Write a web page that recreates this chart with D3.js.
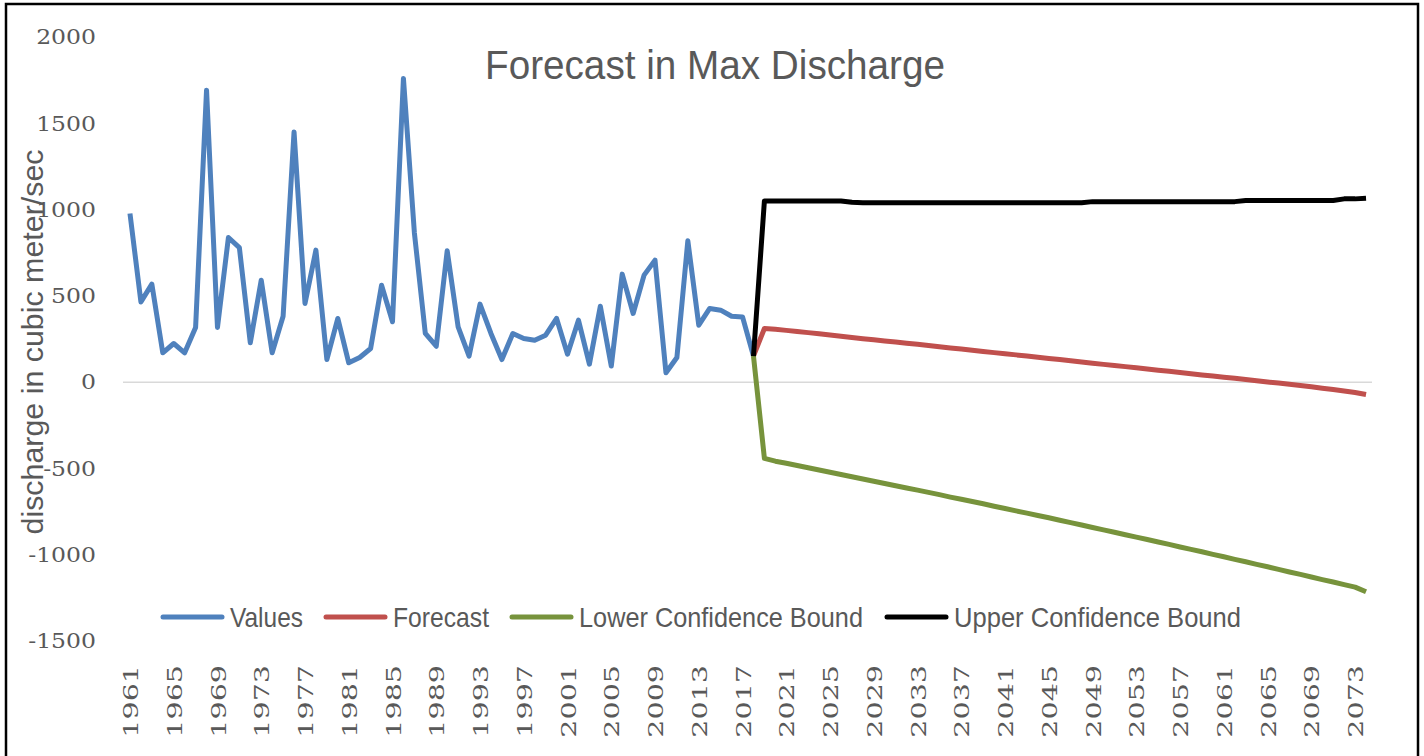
<!DOCTYPE html>
<html>
<head>
<meta charset="utf-8">
<script src="https://cdn.jsdelivr.net/npm/d3@7"></script>
<style>
  body { margin: 0; background: #fff; }
  svg { display: block; }
</style>
</head>
<body>
<div id="chart"></div>
<script>
// observed max discharge, 1961-2018
var valueYears = d3.range(1961, 2019);
var values = [977, 465, 568, 170, 224, 170, 317, 1692, 317, 838,
              780, 228, 591, 170, 382, 1450, 456, 765, 131, 369,
              112, 143, 195, 562, 350, 1760, 866, 282, 208, 761,
              320, 151, 452, 282, 131, 282, 253, 243, 272, 369,
              162, 359, 104, 440, 93, 626, 398, 620, 707, 54,
              143, 819, 330, 427, 417, 382, 378, 151];

// forecast years, 2018 (last observed) to 2074
var forecastYears = d3.range(2018, 2075);
var forecast = [151,
  311, 306, 300, 293, 287, 280, 273, 266, 259, 252,
  246, 239, 232, 225, 219, 212, 205, 198, 192, 185,
  178, 171, 164, 158, 151, 144, 137, 131, 124, 117,
  110, 103, 97, 90, 83, 76, 69, 63, 56, 49,
  42, 35, 29, 22, 15, 8, 1, -5, -12, -19,
  -27, -35, -43, -51, -60, -72];
var lowerBound = [151,
  -442, -458, -470, -483, -496, -509, -522, -535, -548, -561,
  -574, -587, -600, -613, -626, -639, -652, -666, -679, -692,
  -705, -719, -732, -746, -759, -773, -786, -800, -814, -828,
  -842, -856, -870, -884, -898, -912, -926, -940, -955, -969,
  -983, -998, -1012, -1027, -1041, -1056, -1070, -1085, -1100, -1114,
  -1129, -1144, -1158, -1173, -1188, -1215];
var upperBound = [151,
  1050, 1050, 1050, 1050, 1050, 1050, 1050, 1050, 1042, 1040,
  1040, 1040, 1040, 1040, 1040, 1040, 1040, 1040, 1040, 1040,
  1040, 1040, 1040, 1040, 1040, 1040, 1040, 1040, 1040, 1040,
  1046, 1046, 1046, 1046, 1046, 1046, 1046, 1046, 1046, 1046,
  1046, 1046, 1046, 1046, 1053, 1053, 1053, 1053, 1053, 1053,
  1053, 1053, 1053, 1062, 1062, 1066];

var yTicks = [2000, 1500, 1000, 500, 0, -500, -1000, -1500];
var xTickYears = d3.range(1961, 2075, 4);

var seriesNames = ["Values", "Forecast", "Lower Confidence Bound", "Upper Confidence Bound"];
var seriesColors = ["#4f81bd", "#c0504d", "#77933c", "#000000"];

var width = 1424, height = 756;
var textGray = "#595959";
var sans = "'Liberation Sans', Arial, sans-serif";
var serif = "'DejaVu Serif', 'Liberation Serif', serif";

var svg = d3.select("#chart")
  .append("svg")
    .attr("width", width)
    .attr("height", height);

svg.append("rect")
    .attr("width", width)
    .attr("height", height)
    .attr("fill", "#fff");

// outer frame
svg.append("rect")
    .attr("x", 6)
    .attr("y", 4)
    .attr("width", 1412)
    .attr("height", 760)
    .attr("fill", "none")
    .attr("stroke", "#000")
    .attr("stroke-width", 2.5);

// scales
var allYears = d3.range(1961, 2075);
var x = d3.scalePoint()
    .domain(allYears)
    .range([124.5, 1371.5])
    .padding(0.5);

var y = d3.scaleLinear()
    .domain([-1500, 2000])
    .range([641, 37]);

// the reference text is drawn wide, so stretch each label along its length
function stretch(sel, k) {
  sel.each(function() {
    var len = this.getComputedTextLength();
    d3.select(this)
      .attr("textLength", len * k)
      .attr("lengthAdjust", "spacingAndGlyphs");
  });
}

// title
svg.append("text")
    .attr("x", 715)
    .attr("y", 79)
    .attr("text-anchor", "middle")
    .attr("textLength", 460)
    .attr("lengthAdjust", "spacingAndGlyphs")
    .style("font-family", sans)
    .style("font-size", "41px")
    .style("fill", textGray)
    .text("Forecast in Max Discharge");

// y axis labels (no axis line)
var yAxis = svg.append("g")
    .attr("transform", "translate(96,0)")
    .call(d3.axisLeft(y).tickValues(yTicks).tickSize(0).tickPadding(0)
      .tickFormat(function(d) { return String(d); }));
yAxis.select(".domain").remove();
yAxis.selectAll("text")
    .style("font-family", serif)
    .style("font-size", "21px")
    .style("fill", textGray)
    .call(stretch, 1.12);

// zero line
svg.append("line")
    .attr("x1", 123)
    .attr("x2", 1372)
    .attr("y1", y(0))
    .attr("y2", y(0))
    .attr("stroke", "#d9d9d9")
    .attr("stroke-width", 1.5);

// x axis labels, rotated
var xAxis = svg.append("g")
    .attr("transform", "translate(0,665)")
    .call(d3.axisBottom(x).tickValues(xTickYears).tickSize(0).tickPadding(0));
xAxis.select(".domain").remove();
xAxis.selectAll("text")
    .attr("transform", "rotate(-90)")
    .attr("x", 0)
    .attr("y", 0)
    .attr("dy", "0.36em")
    .style("text-anchor", "end")
    .style("font-family", serif)
    .style("font-size", "21px")
    .style("fill", textGray)
    .call(stretch, 1.36);

// y axis title
svg.append("text")
    .attr("transform", "translate(43," + 342 + ") rotate(-90)")
    .attr("text-anchor", "middle")
    .attr("textLength", 385)
    .attr("lengthAdjust", "spacingAndGlyphs")
    .style("font-family", sans)
    .style("font-size", "30px")
    .style("fill", textGray)
    .text("discharge in cubic meter/sec");

var line = d3.line()
    .x(function(d) { return x(d[0]); })
    .y(function(d) { return y(d[1]); });

var series = [
  d3.zip(valueYears, values),
  d3.zip(forecastYears, forecast),
  d3.zip(forecastYears, lowerBound),
  d3.zip(forecastYears, upperBound)
];

svg.selectAll("path.series")
    .data(series)
    .enter()
    .append("path")
      .attr("class", "series")
      .attr("d", line)
      .attr("fill", "none")
      .attr("stroke", function(d, i) { return seriesColors[i]; })
      .attr("stroke-width", 5)
      .attr("stroke-linejoin", "round");

// legend
var legendX = [163, 326, 512, 887];
var legendTextWidth = [73, 96, 284, 287];
var legend = svg.selectAll("g.legend")
    .data(seriesNames)
    .enter()
    .append("g")
      .attr("class", "legend")
      .attr("transform", function(d, i) { return "translate(" + legendX[i] + ",617)"; });

legend.append("line")
    .attr("x1", 0)
    .attr("x2", 59)
    .attr("stroke", function(d, i) { return seriesColors[i]; })
    .attr("stroke-width", 5)
    .attr("stroke-linecap", "round");

legend.append("text")
    .attr("x", 67)
    .attr("dy", "0.36em")
    .attr("textLength", function(d, i) { return legendTextWidth[i]; })
    .attr("lengthAdjust", "spacingAndGlyphs")
    .style("font-family", sans)
    .style("font-size", "28px")
    .style("fill", textGray)
    .text(function(d) { return d; });
</script>
</body>
</html>
